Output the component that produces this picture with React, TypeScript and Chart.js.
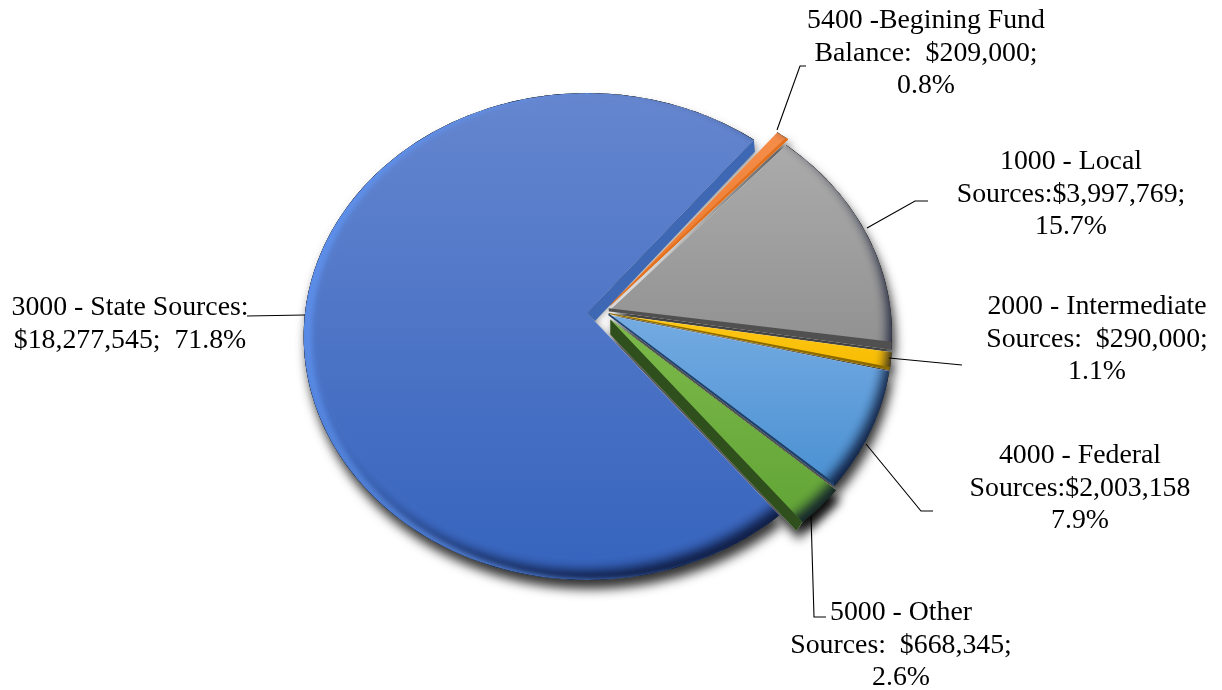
import React, { useEffect, useRef } from "react";
import { Chart, registerables } from "chart.js";

Chart.register(...registerables);

// ---------- data ----------
const categories = [
  "5400 -Begining Fund Balance",
  "1000 - Local Sources",
  "2000 - Intermediate Sources",
  "4000 - Federal Sources",
  "5000 - Other Sources",
  "3000 - State Sources",
];
const amounts = [209000, 3997769, 290000, 2003158, 668345, 18277545];
const explode = [10, 5, 5, 5, 9, 17];
const labelLines = [
  ["5400 -Begining Fund", "Balance:  $209,000;", "0.8%"],
  ["1000 - Local", "Sources:$3,997,769;", "15.7%"],
  ["2000 - Intermediate", "Sources:  $290,000;", "1.1%"],
  ["4000 - Federal", "Sources:$2,003,158", "7.9%"],
  ["5000 - Other", "Sources:  $668,345;", "2.6%"],
  ["3000 - State Sources:", "$18,277,545;  71.8%"],
];

// ---------- style / layout ----------
const ROTATION = 39.5;
const faceTop = ["#f58d4a", "#ababab", "#ffc91a", "#74abe2", "#7cb94a", "#6586cf"];
const faceBottom = ["#ea7525", "#919191", "#f7bb00", "#4a90d2", "#62a436", "#3563bd"];
const wallColor = ["#e0701e", "#505050", "#8a6a00", "#1f3f66", "#2f4f1c", "#3f68b4"];
// [apex dx, dy, tip dx, dy]; every wall sits on the slice's end edge
const walls: [number, number, number, number][] = [
  [-1, -1, -2, -2],
  [0, -3, 0, -8],
  [0, -1, 0, -3],
  [0, -2, 0, -3],
  [0, 15, -6, 9],
  [8, 8, 1, 12],
];
const SX = 0.926;
const SY = 0.792;
const PERSP = 0.097;
const labelX = [926, 1071, 1097, 1080, 901, 130];
const labelY = [21, 162, 307, 456, 613, 308];
const LINE_H = 32.5;
const leaders = [
  [[777, 130], [800, 66], [806, 66]],
  [[867, 228], [915, 201], [928, 201]],
  [[889, 358], [962, 365]],
  [[866, 444], [921, 511], [933, 511]],
  [[811, 516], [814, 617], [826, 617]],
  [[247, 316], [305, 315]],
];

function centerOf(el: any) {
  const mid = (el.startAngle + el.endAngle) / 2;
  const off = el.options.offset || 0;
  return [el.x + Math.cos(mid) * off, el.y + Math.sin(mid) * off];
}
function project(el: any, a: number) {
  const [cx, cy] = centerOf(el);
  const u = Math.cos(a);
  const v = Math.sin(a);
  const w = 1 - PERSP * v;
  return [cx + (SX * el.outerRadius * u) / w, cy + (SY * el.outerRadius * v) / w];
}
function arcAngles(el: any) {
  const n = Math.max(2, Math.ceil((el.endAngle - el.startAngle) / (Math.PI / 180)));
  const out: number[] = [];
  for (let i = 0; i <= n; i++) out.push(el.startAngle + ((el.endAngle - el.startAngle) * i) / n);
  return out;
}
function facePath(ctx: CanvasRenderingContext2D, el: any) {
  const c = centerOf(el);
  ctx.beginPath();
  ctx.moveTo(c[0], c[1]);
  for (const a of arcAngles(el)) {
    const p = project(el, a);
    ctx.lineTo(p[0], p[1]);
  }
  ctx.closePath();
}
function wallPath(ctx: CanvasRenderingContext2D, el: any, i: number) {
  const c = centerOf(el);
  const [ax, ay, tx, ty] = walls[i];
  const tip = project(el, el.endAngle);
  ctx.beginPath();
  ctx.moveTo(c[0], c[1]);
  if (i === 4) {
    const st = project(el, el.startAngle);
    ctx.lineTo(st[0], st[1]);
  }
  ctx.lineTo(tip[0], tip[1]);
  ctx.lineTo(tip[0] + tx, tip[1] + ty);
  ctx.lineTo(c[0] + ax, c[1] + ay);
  ctx.closePath();
}
function rimShadow(
  ctx: CanvasRenderingContext2D,
  el: any,
  color: string,
  blur: number,
  ox: number,
  oy: number
) {
  ctx.save();
  facePath(ctx, el);
  ctx.clip();
  ctx.shadowColor = color;
  ctx.shadowBlur = blur;
  ctx.shadowOffsetX = ox;
  ctx.shadowOffsetY = oy;
  ctx.fillStyle = "#000";
  ctx.beginPath();
  ctx.rect(-400, -400, 2200, 1600);
  for (let d = 0; d < 360; d += 2) {
    const p = project(el, (d * Math.PI) / 180);
    if (d === 0) ctx.moveTo(p[0], p[1]);
    else ctx.lineTo(p[0], p[1]);
  }
  ctx.closePath();
  ctx.fill("evenodd");
  ctx.restore();
}

const perspectivePie = {
  id: "perspectivePie",
  beforeDatasetDraw(chart: any) {
    const ctx: CanvasRenderingContext2D = chart.ctx;
    const arcs = chart.getDatasetMeta(0).data;
    // shadow pass
    ctx.save();
    ctx.shadowColor = "rgba(0,0,0,0.8)";
    ctx.shadowBlur = 11;
    ctx.shadowOffsetX = 3;
    ctx.shadowOffsetY = 9;
    ctx.fillStyle = "#fff";
    arcs.forEach((el: any, i: number) => {
      facePath(ctx, el);
      ctx.fill();
      if (i === 4) {
        wallPath(ctx, el, i);
        ctx.fill();
      }
    });
    ctx.restore();
    // the green slice's side wall lies under every face
    ctx.fillStyle = wallColor[4];
    wallPath(ctx, arcs[4], 4);
    ctx.fill();
    // faces
    arcs.forEach((el: any, i: number) => {
      const ys = arcAngles(el).map((a) => project(el, a)[1]);
      const c = centerOf(el);
      const y0 = Math.min(c[1], ...ys);
      const y1 = Math.max(c[1], ...ys);
      const g = ctx.createLinearGradient(0, y0, 0, y1);
      g.addColorStop(0, faceTop[i]);
      g.addColorStop(1, faceBottom[i]);
      ctx.fillStyle = g;
      facePath(ctx, el);
      ctx.fill();
      rimShadow(ctx, el, "rgba(5,12,40,0.85)", 12, -4, -9);
      rimShadow(ctx, el, "rgba(95,150,245,0.75)", 5, 8, -1);
    });
    // walls on top of neighbouring faces
    arcs.forEach((el: any, i: number) => {
      if (i === 4) return;
      ctx.fillStyle = wallColor[i];
      wallPath(ctx, el, i);
      ctx.fill();
    });
    return false;
  },
  afterDatasetsDraw(chart: any) {
    const ctx: CanvasRenderingContext2D = chart.ctx;
    ctx.save();
    ctx.strokeStyle = "#000";
    ctx.lineWidth = 1.1;
    for (const l of leaders) {
      ctx.beginPath();
      l.forEach((p, i) => (i ? ctx.lineTo(p[0], p[1]) : ctx.moveTo(p[0], p[1])));
      ctx.stroke();
    }
    ctx.fillStyle = "#000";
    ctx.font = '27.8px "Liberation Serif"';
    ctx.textAlign = "center";
    ctx.textBaseline = "middle";
    labelLines.forEach((lines, i) => {
      lines.forEach((t, j) => ctx.fillText(t, labelX[i], labelY[i] + j * LINE_H));
    });
    ctx.restore();
  },
};

export default function App() {
  const ref = useRef<HTMLCanvasElement>(null);
  useEffect(() => {
    const chart = new Chart(ref.current!, {
      type: "pie",
      data: {
        labels: categories,
        datasets: [
          {
            data: amounts,
            backgroundColor: faceBottom,
            borderWidth: 0,
            offset: explode,
          },
        ],
      },
      options: {
        animation: false,
        responsive: false,
        rotation: ROTATION,
        layout: { padding: { left: 0, right: 14, top: 0, bottom: 64 } },
        plugins: { legend: { display: false }, tooltip: { enabled: false } },
      },
      plugins: [perspectivePie],
    } as any);
    return () => chart.destroy();
  }, []);
  return (
    <div style={{ position: "fixed", left: 0, top: 0, width: 1222, height: 690, background: "#fff" }}>
      <canvas ref={ref} width={1222} height={690} style={{ display: "block" }} />
    </div>
  );
}
